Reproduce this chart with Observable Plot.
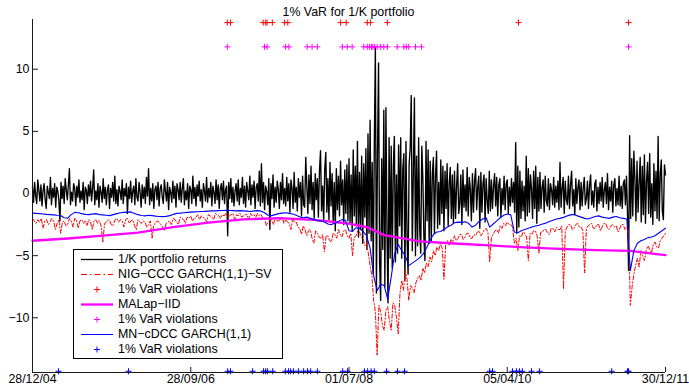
<!DOCTYPE html>
<html>
<head>
<meta charset="utf-8">
<script src="https://cdn.jsdelivr.net/npm/d3@7"></script>
<script src="https://cdn.jsdelivr.net/npm/@observablehq/plot@0.6"></script>
<style>
  body { margin: 0; background: #fff; font-family: "Liberation Sans", Arial, Helvetica, sans-serif; }
  #wrap { position: relative; width: 689px; height: 386px; background: #fff; }
  #title { height: 18px; box-sizing: border-box; padding-top: 6px; line-height: 12px; font-size: 12.4px;
           text-align: center; padding-left: 32px; padding-right: 24px; color: #000; }
  #chart svg { display: block; }
  #legend { position: absolute; left: 73px; top: 249px; width: 210px; height: 110px; box-sizing: border-box;
            border: 1px solid #000; background: #fff; padding-top: 1.5px; font-size: 12.4px; color: #000; }
  #legend .row { display: flex; align-items: center; height: 15px; }
  #legend svg { flex: none; display: block; }
  #legend span { margin-left: 4px; white-space: nowrap; }
</style>
</head>
<body>
<div id="wrap">
  <div id="title">1% VaR for 1/K portfolio</div>
  <div id="chart"></div>
  <div id="legend"></div>
</div>
<script>
// Observation index runs 0..1800 (trading days); the axis is labelled with dates.
const tickObs = [0, 450, 900, 1350, 1800];
const tickLabels = ["28/12/04", "28/09/06", "01/07/08", "05/04/10", "30/12/11"];
const yTicks = [-10, -5, 0, 5, 10];

// 1/K portfolio returns, one value every 3 observations
const returnStep = 3;
const portfolioReturns = [
  0.5,-0.7,0.9,-0.2,-0.8,1.1,0.3,-0.6,0.7,-1.0,0.2,0.8,-0.5,-1.2,0.6,0.1,-0.4,1.3,-0.9,0.4,
  -0.3,0.8,-1.1,0.5,0.2,-0.6,-2.2,0.9,-0.4,0.6,-0.8,1.2,0.3,-0.5,0.7,2.0,-0.9,0.1,-0.6,0.8,
  0.4,-1.0,0.6,-0.3,1.1,-0.7,0.2,-0.5,0.9,-1.3,0.5,0.3,-0.8,0.7,-0.2,1.0,-0.6,0.4,1.9,-0.9,
  0.2,-0.5,0.8,-1.1,0.6,0.1,-0.7,1.2,-0.4,0.5,-0.9,0.3,0.7,-1.2,0.4,-0.3,0.9,-0.6,1.4,-0.8,
  0.3,-1.0,0.6,0.2,-0.5,1.1,-0.8,0.4,-0.2,0.8,-1.6,0.5,-0.4,1.0,-0.7,0.2,0.6,-0.9,1.2,-0.3,
  -0.6,0.9,0.1,-1.1,0.7,-0.4,0.5,-0.8,1.3,-0.2,2.0,-0.9,0.4,-0.6,0.8,-1.2,0.3,0.6,-0.5,0.9,
  -1.0,0.4,0.7,-0.3,-0.8,1.1,0.2,-0.6,0.9,-1.3,0.5,0.1,-0.7,1.0,-0.4,0.6,-1.1,0.8,0.3,-0.5,
  0.9,-0.7,0.4,1.2,-0.9,0.2,-0.5,0.8,-1.2,0.6,0.3,-0.8,1.4,-0.4,0.5,-1.0,0.7,-0.2,1.0,-0.6,
  0.3,-1.1,0.8,0.2,-0.6,1.3,-0.7,0.4,-0.3,0.9,-1.0,0.6,0.1,-0.8,1.1,-0.5,0.7,-1.2,0.4,0.8,
  -0.5,1.0,-0.8,0.3,0.6,-3.4,0.9,-0.4,1.2,-0.7,0.5,-1.0,0.2,0.8,-0.6,1.1,-0.9,0.4,-0.3,1.3,
  -0.8,0.6,-1.1,0.9,0.2,-0.5,1.4,-0.9,0.7,-0.3,1.0,-1.2,0.5,0.8,-0.6,1.8,-1.0,2.4,-0.7,0.9,
  -1.3,0.6,0.2,-0.9,1.2,-2.9,0.8,-0.4,1.5,-1.1,0.5,-0.7,1.0,0.3,-1.2,0.9,-0.5,1.6,-0.8,0.4,
  -1.0,1.3,-0.6,0.8,-1.5,1.1,0.4,-1.2,1.7,-0.7,0.5,-1.4,1.2,-0.3,0.9,-1.8,1.4,-0.9,-1.1,2.9,
  0.7,-1.6,1.5,-0.8,2.2,-1.3,0.9,-2.0,1.6,-0.5,1.2,-1.9,1.8,3.45,-1.4,0.6,-2.2,1.9,3.3,-1.5,
  1.2,-2.1,2.5,-1.0,1.6,-2.4,0.9,-3.0,2.0,-1.3,1.4,-1.8,2.6,-0.9,1.1,-2.5,1.9,-1.6,2.3,-2.2,
  2.8,-2.4,1.5,-3.0,3.5,-1.8,2.2,-2.6,4.2,-3.5,1.7,-2.9,3.0,-4.0,2.4,-1.9,3.6,-4.5,4.8,-3.2,
  5.9,-3.8,2.5,-6.5,4.0,11.75,-8.0,3.1,10.5,-5.5,-8.6,2.8,-4.5,6.7,-7.5,6.9,-3.2,-8.8,4.5,-5.2,
  3.8,-6.0,2.2,4.6,-5.5,1.5,-4.8,3.9,-2.6,4.5,-5.2,2.0,3.2,-7.0,4.2,-3.5,-6.5,2.4,3.6,7.9,
  -4.6,1.8,7.7,-5.0,3.0,-4.2,4.5,-2.8,-4.8,3.8,1.2,-3.6,-5.4,4.2,-2.2,3.5,-4.0,2.6,-3.8,1.6,
  2.9,-3.2,1.4,3.4,-2.8,0.9,-2.5,2.7,-1.6,2.2,-3.0,1.8,-1.2,2.4,-2.6,0.8,2.1,-2.0,1.5,-2.4,
  1.8,-2.0,0.6,2.4,-1.6,-0.8,1.5,-2.5,1.9,-1.1,0.7,-1.4,2.1,-1.8,1.3,0.4,-2.2,1.6,-1.5,1.0,
  2.0,-1.3,0.5,1.4,-2.8,1.7,-1.5,0.8,1.5,-2.3,1.2,-0.6,-1.6,1.8,-1.4,1.1,-1.2,0.6,1.6,-1.0,
  1.3,-1.8,0.7,1.2,-1.9,0.4,-0.9,1.4,-1.3,0.8,1.1,-1.6,0.5,-1.0,1.2,-0.7,0.9,-1.5,4.1,-3.2,
  2.2,-2.7,1.8,-2.0,1.0,-1.4,0.6,-2.2,3.0,-1.8,2.0,-1.5,1.5,0.4,-2.0,1.8,-1.2,2.2,-2.4,1.3,
  -1.4,1.7,-1.2,0.5,1.1,-1.5,1.4,-0.6,-1.0,1.2,-1.3,0.8,0.3,-0.9,1.3,-1.1,0.6,-0.7,1.0,-1.3,
  2.5,-1.1,0.4,1.3,-1.6,1.0,-0.5,-0.9,1.4,-1.2,0.7,1.8,-1.0,0.3,-1.7,1.2,-0.8,0.5,1.1,-1.3,
  0.9,-1.0,0.4,1.3,-0.9,-0.4,1.0,-1.2,0.6,1.5,-0.9,0.2,-1.1,0.8,1.1,-1.4,0.5,-0.8,0.9,-0.6,
  1.3,-1.1,0.3,0.9,-0.8,1.6,-1.3,0.5,-0.6,1.0,-1.5,0.7,1.2,-1.0,0.4,-0.9,1.4,-1.0,0.6,-1.2,
  0.8,1.1,-0.9,1.4,-1.6,-6.2,4.65,-2.0,2.8,-1.8,3.4,1.2,-2.2,2.6,-1.5,0.9,2.9,-2.3,2.2,-1.7,
  3.1,-2.4,1.0,2.5,-1.6,3.2,-1.9,0.8,-2.5,2.4,-1.4,1.8,-2.0,4.6,-2.2,1.5,2.7,-1.4,-2.1,2.3,
  1.5
];

// NIG-CCC GARCH(1,1)-SV 1% VaR, one value every 5 observations
const nigStep = 5;
const nigCccVaR = [
  -2.0,-2.2,-2.4,-2.1,-2.3,-2.0,-2.8,-2.2,-2.1,-2.5,-2.3,-2.0,-2.2,-2.9,-2.4,-2.1,-3.2,-2.3,-2.2,-2.6,
  -2.5,-2.0,-2.2,-2.7,-2.0,-2.1,-2.8,-2.2,-2.1,-2.4,-2.2,-2.6,-2.1,-2.3,-2.9,-2.2,-2.1,-2.4,-2.2,-2.6,
  -3.9,-2.4,-2.3,-2.1,-2.2,-2.6,-2.5,-2.1,-2.0,-2.3,-2.1,-2.2,-2.7,-2.1,-2.0,-2.4,-2.2,-2.1,-2.6,-2.9,
  -2.1,-2.3,-2.4,-2.2,-2.3,-2.7,-2.5,-2.2,-3.6,-2.5,-2.4,-2.2,-2.3,-2.5,-2.7,-3.0,-2.4,-2.3,-2.2,-2.5,
  -2.0,-2.1,-2.3,-2.5,-1.9,-2.0,-2.1,-2.4,-1.9,-2.0,-1.8,-2.2,-2.0,-1.9,-1.7,-2.1,-1.8,-1.9,-2.0,-2.3,
  -1.7,-1.8,-1.9,-2.1,-1.6,-1.7,-1.8,-2.0,-1.7,-1.8,-1.6,-1.9,-1.8,-1.7,-1.6,-2.2,-1.7,-1.8,-1.6,-1.9,
  -1.8,-1.7,-1.7,-2.1,-1.6,-1.8,-1.7,-1.9,-1.6,-1.8,-1.7,-2.0,-2.0,-2.6,-2.3,-2.2,-2.1,-2.5,-2.0,-2.2,
  -2.2,-2.1,-1.9,-2.4,-2.1,-2.3,-2.4,-2.9,-2.0,-2.3,-2.3,-2.7,-2.8,-3.3,-2.6,-2.9,-3.4,-3.0,-2.9,-3.6,
  -4.0,-3.0,-3.2,-3.5,-3.6,-3.3,-4.7,-3.4,-3.4,-3.8,-3.9,-3.2,-3.3,-3.6,-2.9,-3.3,-3.5,-3.0,-2.9,-3.4,
  -3.6,-3.2,-5.0,-3.5,-3.4,-3.0,-3.1,-3.5,-3.6,-4.2,-4.0,-4.8,-5.8,-6.6,-8.6,-9.5,-13.0,-9.0,-9.5,-10.6,
  -11.0,-9.4,-9.1,-10.3,-11.0,-8.8,-9.0,-10.0,-11.3,-8.0,-7.0,-7.8,-6.2,-6.9,-8.6,-7.4,-7.6,-8.0,-7.2,-6.8,
  -6.6,-7.0,-6.0,-6.4,-5.6,-5.9,-5.1,-5.5,-4.6,-5.0,-4.3,-4.6,-4.0,-4.4,-6.9,-4.0,-3.8,-4.2,-3.7,-3.9,
  -3.4,-3.8,-3.6,-3.3,-3.3,-3.7,-3.5,-3.2,-3.2,-3.6,-3.6,-3.3,-3.4,-3.1,-3.0,-3.4,-3.2,-2.9,-2.8,-3.1,
  -5.5,-3.5,-3.3,-3.0,-2.9,-3.2,-2.6,-2.8,-2.4,-2.6,-2.3,-2.5,-2.5,-2.7,-4.0,-3.6,-4.6,-3.4,-3.5,-3.1,
  -3.2,-3.5,-5.4,-3.2,-3.3,-3.0,-3.0,-3.4,-4.8,-3.1,-3.1,-2.9,-2.9,-3.2,-3.3,-2.8,-2.8,-3.1,-2.7,-2.9,
  -2.9,-2.6,-7.7,-3.0,-2.7,-2.5,-2.5,-2.9,-2.8,-2.5,-2.4,-2.7,-2.7,-3.0,-6.4,-2.8,-2.6,-2.5,-2.4,-2.8,
  -2.8,-2.5,-2.5,-3.0,-2.7,-2.4,-2.4,-2.8,-2.9,-2.6,-2.5,-2.7,-2.6,-3.1,-2.8,-2.5,-2.5,-2.9,-2.7,-3.0,
  -9.0,-7.5,-6.5,-5.8,-5.2,-5.9,-4.6,-5.0,-5.4,-4.6,-4.2,-4.5,-4.8,-4.1,-3.9,-4.3,-4.4,-3.8,-3.6,-3.4,
  -3.2
];

// MN-cDCC GARCH(1,1) 1% VaR, one value every 10 observations
const mnStep = 10;
const mnCdccVaR = [
  -1.58,-1.60,-1.62,-1.65,-1.68,-1.70,-1.72,-1.75,-1.77,-1.95,
  -1.98,-1.70,-1.52,-1.55,-1.62,-1.68,-1.70,-1.66,-1.62,-1.70,
  -1.72,-1.75,-1.78,-1.70,-1.62,-1.55,-1.52,-1.50,-1.48,-1.60,
  -1.70,-1.77,-1.80,-1.75,-1.78,-1.82,-1.85,-1.86,-1.84,-1.78,
  -1.68,-1.60,-1.58,-1.55,-1.52,-1.50,-1.48,-1.47,-1.45,-1.44,
  -1.42,-1.40,-1.40,-1.38,-1.37,-1.36,-1.37,-1.38,-1.40,-1.38,
  -1.40,-1.42,-1.45,-1.40,-1.38,-1.42,-1.55,-1.75,-1.78,-1.70,
  -1.62,-1.58,-1.55,-1.60,-1.65,-1.75,-1.88,-1.95,-1.90,-2.00,
  -2.10,-2.18,-2.20,-2.30,-2.45,-2.50,-2.40,-2.25,-2.10,-2.15,
  -3.00,-3.05,-2.75,-2.80,-3.05,-3.40,-4.40,-6.60,-7.80,-7.30,
  -7.40,-8.50,-6.70,-4.80,-4.10,-4.60,-5.00,-5.80,-5.60,-5.40,
  -5.20,-4.90,-4.40,-3.80,-3.30,-3.10,-3.05,-2.90,-2.70,-2.55,
  -2.35,-2.30,-2.32,-2.28,-2.40,-2.70,-2.55,-2.25,-2.05,-1.95,
  -2.70,-2.45,-2.20,-1.95,-1.75,-1.65,-1.72,-3.10,-3.15,-3.00,
  -2.90,-2.80,-2.70,-2.62,-2.55,-2.45,-2.38,-2.25,-2.15,-2.05,
  -2.00,-1.92,-1.80,-1.72,-1.68,-1.80,-1.90,-2.00,-2.05,-1.95,
  -1.85,-1.80,-1.90,-1.95,-2.00,-1.90,-1.85,-1.95,-2.00,-2.05,
  -6.20,-4.60,-4.00,-3.80,-3.70,-3.55,-3.50,-3.40,-3.20,-3.00,
  -2.80
];

// MALap-IID VaR changes slowly; values at these observations
const malapObs = [0, 100, 200, 300, 400, 500, 600, 700, 800, 900, 950, 1000, 1050, 1100, 1200, 1300, 1400, 1500, 1600, 1700, 1750, 1800];
const malapVaR = [-3.80, -3.62, -3.38, -3.15, -2.70, -2.35, -2.08, -1.98, -2.12, -2.42, -2.70, -3.35, -3.58, -3.85, -4.02, -4.18, -4.33, -4.45, -4.55, -4.62, -4.80, -4.95];

// Observations where the return fell below each model's VaR
const nigViolations = [554, 563, 656, 663, 667, 682, 717, 726, 876, 892, 952, 961, 1009, 1382, 1695];
const malapViolations = [554, 660, 667, 719, 729, 781, 795, 810, 881, 895, 909, 942, 952, 958, 964, 968, 973, 980, 990, 999, 1009, 1037, 1056, 1063, 1070, 1089, 1106, 1695];
const mnViolations = [74, 273, 555, 563, 626, 657, 663, 668, 683, 719, 728, 734, 742, 756, 771, 782, 791, 810, 882, 896, 944, 953, 963, 972, 1007, 1038, 1058, 1300, 1308, 1365, 1376, 1385, 1393, 1419, 1442, 1647, 1692, 1695];

// Levels at which the violation markers are drawn
const nigMarkLevel = 13.75;
const malapMarkLevel = 11.8;
const mnMarkLevel = -14.3;

const yMin = -14.4, yMax = 14;
const RED = "#ff0000", MAGENTA = "#ff00ff", BLUE = "#0000ff", AXIS = "#1a1a1a";

const retData = portfolioReturns.map((v, i) => ({obs: i * returnStep, v}));
const nigData = nigCccVaR.map((v, i) => ({obs: i * nigStep, v}));
const mnData = mnCdccVaR.map((v, i) => ({obs: i * mnStep, v}));
const malapData = malapObs.map((o, i) => ({obs: o, v: malapVaR[i]}));
const labelOf = new Map(tickObs.map((t, i) => [t, tickLabels[i]]));

const chart = Plot.plot({
  width: 689,
  height: 368,
  marginTop: 1,
  marginBottom: 14,
  marginLeft: 32,
  marginRight: 24,
  style: {fontFamily: "'Liberation Sans', Arial, Helvetica, sans-serif", fontSize: "12.4px", background: "#fff", overflow: "visible", color: "#000"},
  x: {domain: [0, 1800], axis: null},
  y: {domain: [yMin, yMax], axis: null},
  marks: [
    Plot.line(retData, {x: "obs", y: "v", stroke: "#000", strokeWidth: 1.35}),
    Plot.line(nigData, {x: "obs", y: "v", stroke: RED, strokeWidth: 1, strokeDasharray: "4,2,1.2,2"}),
    Plot.dot(nigViolations, {x: d => d, y: () => nigMarkLevel, symbol: "plus", r: 2.1, stroke: RED, strokeWidth: 1}),
    Plot.line(malapData, {x: "obs", y: "v", stroke: MAGENTA, strokeWidth: 2.3}),
    Plot.dot(malapViolations, {x: d => d, y: () => malapMarkLevel, symbol: "plus", r: 2.1, stroke: MAGENTA, strokeWidth: 1}),
    Plot.line(mnData, {x: "obs", y: "v", stroke: BLUE, strokeWidth: 1.1}),
    Plot.dot(mnViolations, {x: d => d, y: () => mnMarkLevel, symbol: "plus", r: 2.1, stroke: BLUE, strokeWidth: 1}),
    // axis lines and inward tick marks
    Plot.ruleX([0], {stroke: AXIS, strokeWidth: 1}),
    Plot.ruleY([yMin], {stroke: AXIS, strokeWidth: 1}),
    Plot.ruleY(yTicks, {y: d => d, x1: 0, x2: 17, stroke: AXIS, strokeWidth: 1}),
    Plot.ruleX(tickObs, {x: d => d, y1: yMin, y2: yMin + 0.4, stroke: AXIS, strokeWidth: 1}),
    Plot.axisY({ticks: yTicks, tickSize: 0, tickPadding: 3, label: null}),
    Plot.axisX({ticks: tickObs, tickSize: 0, tickPadding: 2, label: null, tickFormat: d => labelOf.get(d)})
  ]
});
document.getElementById("chart").appendChild(chart);

// Legend box
const legendItems = [
  {kind: "line", color: "#000", width: 1.3, dash: null, text: "1/K portfolio returns"},
  {kind: "line", color: RED, width: 1, dash: "6,3,1.5,3", text: "NIG\u2212CCC GARCH(1,1)\u2212SV"},
  {kind: "plus", color: RED, text: "1% VaR violations"},
  {kind: "line", color: MAGENTA, width: 2.3, dash: null, text: "MALap\u2212IID"},
  {kind: "plus", color: MAGENTA, text: "1% VaR violations"},
  {kind: "line", color: BLUE, width: 1, dash: null, text: "MN\u2212cDCC GARCH(1,1)"},
  {kind: "plus", color: BLUE, text: "1% VaR violations"}
];
const legend = d3.select("#legend");
for (const item of legendItems) {
  const row = legend.append("div").attr("class", "row");
  const svg = row.append("svg").attr("width", 40).attr("height", 15);
  if (item.kind === "line") {
    svg.append("line").attr("x1", 7).attr("x2", 39).attr("y1", 7.5).attr("y2", 7.5)
      .attr("stroke", item.color).attr("stroke-width", item.width)
      .attr("stroke-dasharray", item.dash);
  } else {
    svg.append("path").attr("d", "M20,7.5h6M23,4.5v6")
      .attr("stroke", item.color).attr("stroke-width", 1).attr("fill", "none");
  }
  row.append("span").text(item.text);
}
</script>
</body>
</html>
